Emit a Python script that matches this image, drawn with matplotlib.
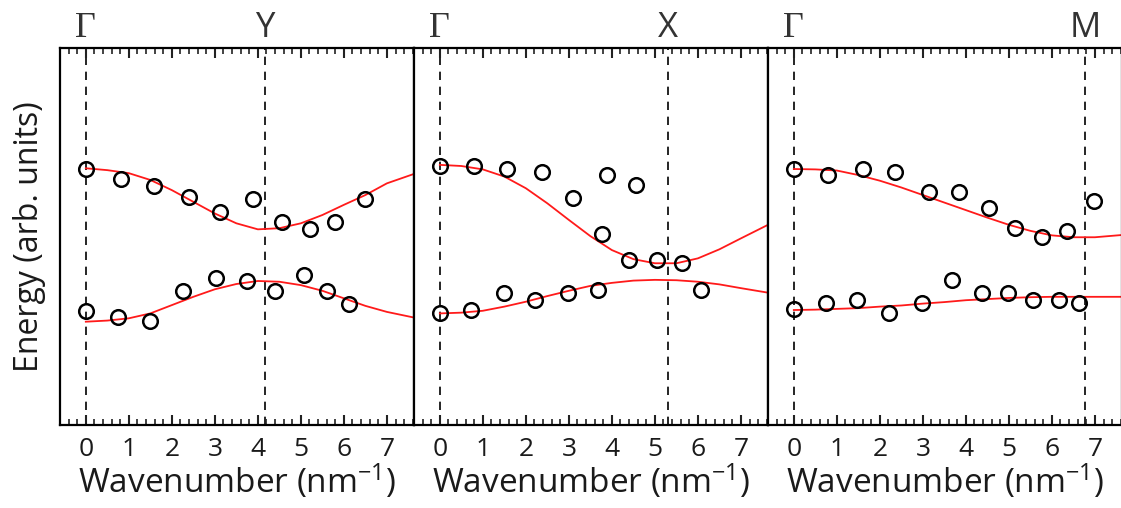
import numpy as np
import matplotlib
matplotlib.use('Agg')
import matplotlib.pyplot as plt

plt.rcParams['font.family'] = ['Open Sans', 'DejaVu Sans']
plt.rcParams['mathtext.fontset'] = 'custom'
plt.rcParams['mathtext.rm'] = 'Open Sans'
plt.rcParams['mathtext.default'] = 'regular'

# 各パネルの高対称点 (Γ → 終点)
end_labels = ['Y', 'X', 'M']
end_pos = [4.17, 5.30, 6.78]

# 実験点 (上のバンド)
p1_up_x = [0.00, 0.81, 1.59, 2.39, 3.12, 3.89, 4.56, 5.21, 5.80, 6.49]
p1_up_y = [6.79, 6.52, 6.34, 6.06, 5.65, 5.99, 5.38, 5.21, 5.38, 5.99]
p2_up_x = [0.00, 0.80, 1.56, 2.37, 3.10, 3.88, 4.57, 3.76, 4.40, 5.04, 5.64]
p2_up_y = [6.88, 6.88, 6.80, 6.71, 6.01, 6.63, 6.37, 5.06, 4.38, 4.38, 4.29]
p3_up_x = [0.00, 0.79, 1.60, 2.36, 3.14, 3.84, 4.53, 5.14, 5.76, 6.35, 6.99]
p3_up_y = [6.79, 6.63, 6.79, 6.71, 6.17, 6.17, 5.76, 5.23, 4.98, 5.15, 5.93]

# 実験点 (下のバンド)
p1_lo_x = [0.00, 0.76, 1.50, 2.27, 3.02, 3.74, 4.40, 5.07, 5.61, 6.12]
p1_lo_y = [3.03, 2.86, 2.77, 3.56, 3.89, 3.82, 3.55, 3.98, 3.55, 3.21]
p2_lo_x = [0.00, 0.72, 1.49, 2.21, 2.98, 3.67, 6.08]
p2_lo_y = [2.96, 3.05, 3.49, 3.32, 3.49, 3.58, 3.58]
p3_lo_x = [0.00, 0.76, 1.48, 2.21, 2.97, 3.68, 4.37, 4.97, 5.57, 6.16, 6.63]
p3_lo_y = [3.07, 3.23, 3.32, 2.96, 3.23, 3.85, 3.49, 3.49, 3.32, 3.32, 3.23]

# 計算結果 (赤線) 図から読み取り
cx = [0.0, 0.5, 1.0, 1.5, 2.0, 2.5, 3.0, 3.5, 4.0, 4.5, 5.0, 5.5, 6.0, 6.5,
      7.0, 7.63]
c1_up = [6.81, 6.76, 6.68, 6.50, 6.23, 5.92, 5.61, 5.35, 5.19, 5.22, 5.35,
         5.57, 5.84, 6.10, 6.41, 6.66]
c1_lo = [2.74, 2.77, 2.83, 2.96, 3.18, 3.40, 3.60, 3.74, 3.82, 3.80, 3.71,
         3.56, 3.36, 3.16, 3.00, 2.85]
c2_up = [6.90, 6.87, 6.78, 6.59, 6.28, 5.88, 5.44, 5.01, 4.64, 4.40, 4.29,
         4.29, 4.42, 4.66, 4.95, 5.31]
c2_lo = [2.96, 2.98, 3.03, 3.14, 3.27, 3.42, 3.56, 3.69, 3.77, 3.83, 3.85,
         3.84, 3.80, 3.73, 3.63, 3.51]
c3_up = [6.79, 6.78, 6.75, 6.63, 6.48, 6.30, 6.10, 5.90, 5.70, 5.50, 5.31,
         5.15, 5.03, 4.98, 4.98, 5.04]
c3_lo = [3.05, 3.06, 3.08, 3.10, 3.14, 3.17, 3.22, 3.26, 3.31, 3.34, 3.37,
         3.39, 3.40, 3.40, 3.40, 3.40]

panels = [
    (p1_up_x, p1_up_y, p1_lo_x, p1_lo_y, c1_up, c1_lo),
    (p2_up_x, p2_up_y, p2_lo_x, p2_lo_y, c2_up, c2_lo),
    (p3_up_x, p3_up_y, p3_lo_x, p3_lo_y, c3_up, c3_lo),
]

fig = plt.figure(figsize=(11.21, 5.08), dpi=100)
W, H = 1121., 508.
left0 = 60.
pw = 354.
top, bottom = 48., 425.

for i, (ux, uy, lx, ly, cu, cl) in enumerate(panels):
    ax = fig.add_axes(((left0 + i * pw) / W, (H - bottom) / H, pw / W,
                       (bottom - top) / H))
    ax.set_xlim(-0.6, 7.63)
    ax.set_ylim(0, 10)
    # 高対称点の破線
    for xv in [0.0, end_pos[i]]:
        ax.axvline(xv, color='k', ls=(0, (5, 4)), lw=1.2, zorder=1)
    # 赤線
    ax.plot(cx, cu, color='#ff1a1a', lw=1.3, zorder=2)
    ax.plot(cx, cl, color='#ff1a1a', lw=1.3, zorder=2)
    # 実験点
    ax.plot(ux, uy, 'o', mfc='none', mec='k', ms=10.5, mew=1.8, zorder=3)
    ax.plot(lx, ly, 'o', mfc='none', mec='k', ms=10.5, mew=1.8, zorder=3)

    # 目盛り (上下とも内向き)
    ax.set_xticks(np.arange(0, 8, 1))
    ax.set_xticks(np.arange(-0.6, 7.7, 0.2), minor=True)
    ax.tick_params(axis='x', which='major', direction='in', top=True,
                   bottom=True, length=7.5, width=1.5, color='#222222',
                   labelsize=19, pad=9, labelcolor='#1a1a1a')
    ax.tick_params(axis='x', which='minor', direction='in', top=True,
                   bottom=True, length=4.5, width=1.2, color='#222222')
    ax.set_yticks([])
    for sp in ax.spines.values():
        sp.set_linewidth(1.6)
    ax.set_xlabel('Wavenumber (nm$^{-1}$)', fontsize=24, labelpad=0,
                  color='#1a1a1a')
    if i == 0:
        ax.set_ylabel('Energy (arb. units)', fontsize=23, labelpad=10,
                      color='#1a1a1a')
    # 上の記号
    ax.annotate('Γ', xy=(0.0, 1.0), xycoords=('data', 'axes fraction'),
                xytext=(0, 2), textcoords='offset points', ha='center',
                va='bottom', fontsize=26, color='#333333',
                family=['Liberation Serif', 'DejaVu Serif'])
    ax.annotate(end_labels[i], xy=(end_pos[i], 1.0),
                xycoords=('data', 'axes fraction'), xytext=(0, 2),
                textcoords='offset points', ha='center', va='bottom',
                fontsize=25, color='#333333')

plt.savefig('out.png', dpi=100)
plt.close()
